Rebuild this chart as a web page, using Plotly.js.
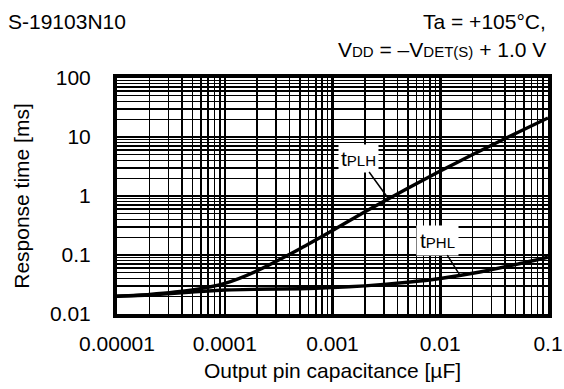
<!DOCTYPE html>
<html>
<head>
<meta charset="utf-8">
<script src="https://cdn.plot.ly/plotly-3.0.1.min.js"></script>
<style>html,body{margin:0;padding:0;background:#fff;}#chart{width:564px;height:389px;}</style>
</head>
<body>
<div id="chart"></div>
<script>
// Data
const capacitance = [0.00001, 0.00002, 0.00005, 0.0001, 0.0002, 0.0005, 0.001, 0.002, 0.005, 0.01, 0.02, 0.05, 0.1];
const tPLH = [0.0200, 0.0215, 0.0255, 0.0330, 0.0540, 0.128, 0.260, 0.54, 1.35, 2.65, 5.05, 11.5, 21];
const tPHL = [0.0200, 0.0210, 0.0235, 0.0255, 0.0262, 0.0268, 0.0280, 0.0300, 0.0345, 0.0400, 0.0490, 0.0690, 0.0920];
const xTickVals = [0.00001, 0.0001, 0.001, 0.01, 0.1];
const xTickText = ["0.00001", "0.0001", "0.001", "0.01", "0.1"];
const yTickVals = [0.01, 0.1, 1, 10, 100];
const yTickText = ["0.01", "0.1", "1", "10", "100"];

const FONT = "Liberation Sans, Arial, sans-serif";
const FS = 21;
const lineStyle = {color: "black", width: 3.4, shape: "spline", smoothing: 0.6};

const traces = [
  {x: capacitance, y: tPLH, mode: "lines", line: lineStyle, name: "tPLH", hoverinfo: "skip"},
  {x: capacitance, y: tPHL, mode: "lines", line: lineStyle, name: "tPHL", hoverinfo: "skip"}
];

const axisCommon = {
  type: "log",
  tickmode: "array",
  showgrid: true, gridcolor: "black", gridwidth: 2.5,
  showline: true, linecolor: "black", linewidth: 4, mirror: true,
  ticks: "", zeroline: false,
  tickfont: {family: FONT, size: FS, color: "black"},
  minor: {dtick: "D1", showgrid: true, gridcolor: "black", gridwidth: 1.4, ticks: ""}
};

const layout = {
  width: 564, height: 389,
  margin: {l: 117, r: 16, t: 78, b: 75},
  paper_bgcolor: "white", plot_bgcolor: "white",
  showlegend: false,
  font: {family: FONT, size: FS, color: "black"},
  xaxis: Object.assign({}, axisCommon, {
    range: [-5, -1], tickvals: xTickVals, ticktext: xTickText, ticklabelstandoff: 8,
    title: {text: "Output pin capacitance [\u00b5F]", font: {family: FONT, size: FS, color: "black"}, standoff: 10}
  }),
  yaxis: Object.assign({}, axisCommon, {
    range: [-2, 2], tickvals: yTickVals, ticktext: yTickText, ticklabelstandoff: 18,
    title: {text: "Response time [ms]", font: {family: FONT, size: FS, color: "black"}, standoff: 16}
  }),
  annotations: [
    {xref: "paper", yref: "paper", x: -117/431, y: 1 + 78/236, xanchor: "left", yanchor: "top", xshift: 6, yshift: -8,
     text: "S-19103N10", showarrow: false, font: {family: FONT, size: FS, color: "black"}},
    {xref: "paper", yref: "paper", x: 1, y: 1 + 78/236, xanchor: "right", yanchor: "top", yshift: -8,
     text: "Ta = +105\u00b0C,", showarrow: false, font: {family: FONT, size: FS, color: "black"}},
    {xref: "paper", yref: "paper", x: 1, y: 1 + 78/236, xanchor: "right", yanchor: "top", yshift: -36,
     text: "V<span style='font-size:15px'>DD</span> = \u2013V<span style='font-size:15px'>DET(S)</span> + 1.0 V", showarrow: false, font: {family: FONT, size: FS, color: "black"}},
    {x: Math.log10(0.00327), y: -0.034, xref: "x", yref: "y",
     text: "t<span style='font-size:15px'>PLH</span>", showarrow: true, arrowhead: 0, arrowwidth: 1.5, arrowcolor: "black",
     ax: -29, ay: -40, bgcolor: "white", borderpad: 2, font: {family: FONT, size: FS, color: "black"}},
    {x: Math.log10(0.0152), y: -1.34, xref: "x", yref: "y",
     text: "t<span style='font-size:15px'>PHL</span>", showarrow: true, arrowhead: 0, arrowwidth: 1.5, arrowcolor: "black",
     ax: -22, ay: -35, bgcolor: "white", borderpad: 3, font: {family: FONT, size: FS, color: "black"}}
  ]
};

Plotly.newPlot("chart", traces, layout, {staticPlot: true, displayModeBar: false});
</script>
</body>
</html>
